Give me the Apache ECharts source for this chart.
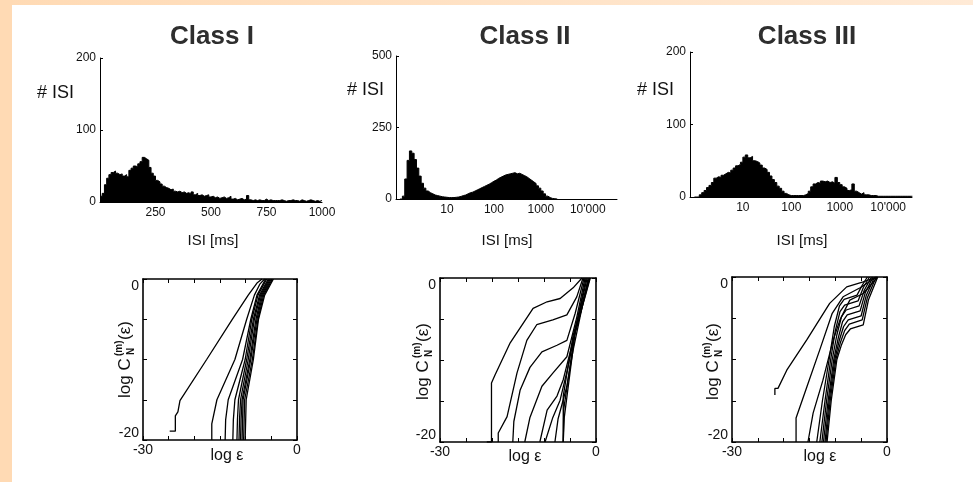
<!DOCTYPE html>
<html><head><meta charset="utf-8">
<script src="https://cdn.jsdelivr.net/npm/echarts@6/dist/echarts.min.js"></script>
<style>html,body{margin:0;padding:0;background:#fff}#c{width:973px;height:482px}</style>
</head><body><div id="c"></div>
<script>
// ---------- DATA ----------
const titles = ["Class I", "Class II", "Class III"];
// Class I histogram: linear bins of 10 ms, 0..1000 ms
const hist1BinWidth = 10;
const hist1Counts = [8,12,24,33,38,41,43,40,38,39,36,38,35,44,47,50,49,53,56,62,
  60,58,48,40,36,30,28,25,22,20,19,17,18,15,14,15,13,14,12,13,
  11,14,10,12,9,10,8,9,10,7,8,6,7,5,6,7,5,6,8,4,
  5,3,4,5,3,4,9,3,2,3,2,3,2,2,4,2,3,2,2,2,
  2,3,2,1,2,2,3,2,2,1,3,2,1,2,3,2,1,2,1,2];
// Class II & III histograms: log bins of 0.05 decade starting at 1 ms
const logBinWidth = 0.05;
const hist2Counts = [0,10,70,135,168,160,138,108,80,55,38,28,22,18,14,12,10,8,7,6,
  5,5,5,6,7,9,12,14,18,22,24,28,32,36,40,44,48,52,57,62,
  66,72,76,80,84,86,88,90,92,88,90,86,82,78,72,66,60,54,46,38,
  28,18,10,5,2,1,0];
const hist3Counts = [0,0,3,6,9,13,16,20,26,28,27,30,32,34,33,37,40,43,45,48,
  55,58,54,56,50,49,47,44,40,38,34,29,24,20,15,12,8,5,3,2,
  2,2,2,2,2,3,5,8,14,18,20,19,22,21,22,20,21,19,27,20,
  17,14,12,9,10,18,8,6,4,6,3,3,2,2,2,1,1,1,1,1,1,1,1,1,1,1,1,1,1,1];
const histYMax = [200, 500, 200];
const histYStep = [100, 250, 100];
const logTickLabels = {10: "10", 100: "100", 1000: "1000", 10000: "10'000"};

// Correlation integrals log C_N^(m)(eps) vs log eps, m = 1..10
const corrI = [
  [[-24.8,-18.9],[-23.7,-18.9],[-23.7,-17.0],[-23.2,-16.5],[-22.8,-15.1],[-17.6,-10],[-12.7,-5.1],[-9.5,-2],[-7.8,-0.5],[-6.8,0]],
  [[-16.6,-20],[-16.6,-18],[-15.6,-15],[-12.1,-10],[-9.8,-5],[-8.3,-2],[-7.2,-0.6],[-6.3,0]],
  [[-14.0,-20],[-13.9,-17.5],[-13.4,-15],[-10.6,-10],[-9.0,-5],[-7.8,-2],[-6.1,0]],
  [[-12.5,-20],[-12.4,-17.5],[-12.1,-15],[-10.1,-10],[-8.8,-5],[-7.6,-2],[-5.9,0]],
  [[-11.7,-20],[-11.6,-17.5],[-11.4,-15],[-9.8,-10],[-8.5,-5],[-7.3,-2],[-5.6,0]],
  [[-11.3,-20],[-11.2,-17.5],[-11.0,-15],[-9.5,-10],[-8.3,-5],[-7.1,-2],[-5.4,0]],
  [[-11.0,-20],[-10.9,-17.5],[-10.7,-15],[-9.2,-10],[-8.0,-5],[-6.9,-2],[-5.2,0]],
  [[-10.7,-20],[-10.6,-17.5],[-10.5,-15],[-9.0,-10],[-7.8,-5],[-6.7,-2],[-5.0,0]],
  [[-10.4,-20],[-10.3,-17.5],[-10.2,-15],[-8.7,-10],[-7.6,-5],[-6.5,-2],[-4.8,0]],
  [[-10.1,-20],[-10.0,-17.5],[-9.9,-15],[-8.5,-10],[-7.5,-5],[-6.3,-2],[-4.6,0]]
];
const corrII = [
  [[-21,-20],[-20.1,-20],[-20.1,-12.8],[-19.4,-11.8],[-16.5,-7.9],[-12.1,-3.7],[-9.4,-2.9],[-6.9,-2.5],[-4.4,-1.2],[-2.7,0]],
  [[-18.8,-20],[-18.8,-18.9],[-17.1,-16.9],[-15.2,-11.6],[-13.3,-7.6],[-11.4,-5.7],[-8.3,-5.1],[-5.6,-4.5],[-3.7,-2.3],[-2.5,0]],
  [[-16,-20],[-15.8,-17.5],[-14.6,-13.7],[-12.7,-10.9],[-10.4,-9],[-7.5,-8.2],[-5.6,-7.6],[-4,-4.3],[-2.3,0]],
  [[-13.7,-20],[-12.7,-17],[-10.4,-13.2],[-8.3,-11.6],[-5.6,-9.6],[-3.7,-4.8],[-2.1,0]],
  [[-10.8,-20],[-9.4,-16.1],[-7.5,-14.4],[-6.3,-12.4],[-4.4,-7.6],[-1.9,0]],
  [[-9.8,-20],[-8.3,-17],[-6.9,-14.9],[-5.4,-10.9],[-3.7,-5.5],[-1.7,0]],
  [[-7.9,-20],[-7.3,-17.2],[-5.6,-13.2],[-4.4,-8.8],[-1.5,0]],
  [[-6.3,-20],[-6.3,-14.4],[-4.4,-7],[-1.3,0]],
  [[-6.3,-20],[-6.2,-16],[-4.2,-7.2],[-1.2,0]],
  [[-6.3,-20],[-6.1,-17],[-4.0,-6.6],[-1.1,0]]
];
const corrIII = [
  [[-21.7,-14.3],[-21.7,-13.5],[-21.1,-13.5],[-19.4,-11.3],[-15.5,-7.6],[-11.1,-3.2],[-7.8,-1.2],[-4.6,-0.6],[-2,0]],
  [[-17.6,-20],[-17.6,-17.1],[-15.5,-13.3],[-13,-8.8],[-10.6,-4.4],[-8.5,-2.4],[-5.2,-1.3],[-2,0]],
  [[-15.3,-20],[-14.3,-16.5],[-12.4,-12.5],[-10.4,-7.6],[-9.1,-5.2],[-7.2,-2.8],[-4.6,-2],[-1.8,0]],
  [[-13.6,-20],[-12.5,-15],[-11.2,-10],[-10.2,-6],[-9.2,-3.5],[-8.3,-2.7],[-5.8,-2.2],[-4.8,-1],[-3.8,0]],
  [[-13.0,-20],[-12.0,-15],[-10.9,-10],[-10.0,-6.5],[-9.1,-4.2],[-8.2,-3.4],[-5.6,-2.9],[-4.6,-1.3],[-3.4,0]],
  [[-12.6,-20],[-11.7,-15],[-10.6,-10],[-9.7,-7],[-8.8,-4.8],[-7.9,-4.0],[-5.4,-3.5],[-4.4,-1.6],[-3.0,0]],
  [[-12.3,-20],[-11.4,-15],[-10.3,-10],[-9.4,-7.3],[-8.6,-5.4],[-7.7,-4.6],[-5.2,-4.1],[-4.2,-1.9],[-2.7,0]],
  [[-12.0,-20],[-11.2,-15],[-10.1,-10],[-9.2,-7.6],[-8.4,-6.0],[-7.5,-5.2],[-5.0,-4.7],[-4.0,-2.2],[-2.4,0]],
  [[-11.8,-20],[-11.0,-15],[-9.9,-10],[-9.0,-7.9],[-8.2,-6.5],[-7.3,-5.7],[-4.8,-5.2],[-3.8,-2.5],[-2.1,0]],
  [[-11.6,-20],[-10.8,-15],[-9.7,-10],[-8.8,-8.2],[-8.0,-7.0],[-7.1,-6.3],[-4.6,-5.8],[-3.6,-2.8],[-1.8,0]]
];
const corrSets = [corrI, corrII, corrIII];

// ---------- LAYOUT ----------
const FONT = "'Liberation Sans', Arial, sans-serif";
const grids = [
  {left:100, top:58, width:222, height:144},
  {left:396, top:56, width:221, height:143},
  {left:690, top:52, width:222, height:145},
  {left:143, top:279, width:154, height:161},
  {left:440, top:278, width:156, height:164},
  {left:732, top:277, width:155, height:165}
];
const titlePos = [[212,37],[525,37],[807,37]];
const isiYPos = [[37,93],[347,90],[637,90]];
const isiXPos = [[213,241],[507,241],[802,241]];
const logEpsPos = [[227,456],[525,457],[820,457]];
const ylabPos = [[125,358],[423,360],[713,360]];

function histPts(counts, start, w, isLog) {
  const pts = [];
  for (let i = 0; i < counts.length; i++) {
    const e = start + i * w;
    pts.push([isLog ? Math.pow(10, e) : e, counts[i]]);
  }
  const eEnd = start + counts.length * w;
  pts.push([isLog ? Math.pow(10, eEnd) : eEnd, counts[counts.length - 1]]);
  return pts;
}
const histData = [
  histPts(hist1Counts, 0, hist1BinWidth, false),
  histPts(hist2Counts, 0, logBinWidth, true),
  histPts(hist3Counts, 0, logBinWidth, true)
];

const lblStyle = {color:'#111', fontFamily:FONT, fontSize:12};
const xAxis = [], yAxis = [], series = [];

// histogram axes
xAxis.push({gridIndex:0, type:'value', min:0, max:1000, interval:250,
  axisLine:{lineStyle:{color:'#000', width:1}}, axisTick:{show:false}, splitLine:{show:false},
  axisLabel:Object.assign({}, lblStyle, {margin:5, formatter:v => v === 0 ? '' : String(v)})});
const logFmt = v => { const r = Math.round(v); return (Math.abs(v - r) < 1e-6 && logTickLabels[r]) ? logTickLabels[r] : ''; };
xAxis.push({gridIndex:1, type:'log', logBase:10, min:0.82, max:42000,
  axisLine:{lineStyle:{color:'#000', width:1}}, axisTick:{show:false}, splitLine:{show:false}, minorTick:{show:false},
  axisLabel:Object.assign({}, lblStyle, {margin:5, formatter:logFmt, showMinLabel:true, showMaxLabel:true})});
xAxis.push({gridIndex:2, type:'log', logBase:10, min:0.81, max:31000,
  axisLine:{lineStyle:{color:'#000', width:1}}, axisTick:{show:false}, splitLine:{show:false}, minorTick:{show:false},
  axisLabel:Object.assign({}, lblStyle, {margin:5, formatter:logFmt, showMinLabel:true, showMaxLabel:true})});
for (let k = 0; k < 3; k++) {
  yAxis.push({gridIndex:k, type:'value', min:0, max:histYMax[k], interval:histYStep[k],
    axisLine:{show:true, lineStyle:{color:'#000', width:1}},
    axisTick:{show:true, inside:true, length:3, lineStyle:{color:'#000'}},
    splitLine:{show:false}, axisLabel:Object.assign({}, lblStyle, {margin:4})});
  series.push({type:'line', xAxisIndex:k, yAxisIndex:k, step:'end', symbol:'none', silent:true,
    data:histData[k], lineStyle:{color:'#000', width:1}, areaStyle:{color:'#000', opacity:1}, animation:false});
}
// correlation integral axes (bottom/left with labels, top/right frame)
for (let k = 0; k < 3; k++) {
  const g = 3 + k;
  xAxis.push({gridIndex:g, type:'value', min:-30, max:0, interval:5, position:'bottom',
    axisLine:{onZero:false, lineStyle:{color:'#000', width:1.6}},
    axisTick:{inside:true, length:4, lineStyle:{color:'#000'}}, splitLine:{show:false},
    axisLabel:{color:'#111', fontFamily:FONT, fontSize:14, margin:3,
      formatter:v => (v === -30 || v === 0) ? String(v) : ''}});
  yAxis.push({gridIndex:g, type:'value', min:-20, max:0, interval:5, position:'left',
    axisLine:{onZero:false, lineStyle:{color:'#000', width:1.6}},
    axisTick:{inside:true, length:4, lineStyle:{color:'#000'}}, splitLine:{show:false},
    axisLabel:{color:'#111', fontFamily:FONT, fontSize:14, margin:4,
      verticalAlignMaxLabel:'top', verticalAlignMinLabel:'bottom',
      formatter:v => (v === -20 || v === 0) ? String(v) : ''}});
}
for (let k = 0; k < 3; k++) {
  const g = 3 + k;
  xAxis.push({gridIndex:g, type:'value', min:-30, max:0, interval:5, position:'top',
    axisLine:{onZero:false, lineStyle:{color:'#000', width:1.6}},
    axisTick:{inside:true, length:4, lineStyle:{color:'#000'}}, splitLine:{show:false}, axisLabel:{show:false}});
  yAxis.push({gridIndex:g, type:'value', min:-20, max:0, interval:5, position:'right',
    axisLine:{onZero:false, lineStyle:{color:'#000', width:1.6}},
    axisTick:{inside:true, length:4, lineStyle:{color:'#000'}}, splitLine:{show:false}, axisLabel:{show:false}});
}
for (let k = 0; k < 3; k++) {
  corrSets[k].forEach(c => series.push({type:'line', xAxisIndex:3 + k, yAxisIndex:3 + k, symbol:'none', silent:true,
    data:c, lineStyle:{color:'#000', width:1.3}, animation:false}));
}

// ---------- TEXT / DECOR ----------
const graphic = [
  {type:'rect', shape:{x:0, y:0, width:973, height:5}, style:{fill:new echarts.graphic.LinearGradient(0,0,1,0,[{offset:0,color:'#FFDAB4'},{offset:1,color:'#FFEAD6'}])}, silent:true},
  {type:'rect', shape:{x:0, y:0, width:12, height:482}, style:{fill:'#FFDAB4'}, silent:true}
];
for (let k = 0; k < 3; k++) {
  graphic.push({type:'text', x:titlePos[k][0], y:titlePos[k][1], style:{text:titles[k], font:"bold 26px " + FONT, fill:'#2e2e2e', align:'center', verticalAlign:'middle'}});
  graphic.push({type:'text', x:isiYPos[k][0], y:isiYPos[k][1], style:{text:'# ISI', font:"18px " + FONT, fill:'#111', align:'left', verticalAlign:'middle'}});
  graphic.push({type:'text', x:isiXPos[k][0], y:isiXPos[k][1], style:{text:'ISI [ms]', font:"15px " + FONT, fill:'#111', align:'center', verticalAlign:'middle'}});
  graphic.push({type:'text', x:logEpsPos[k][0], y:logEpsPos[k][1], style:{text:'log ε', font:"16px " + FONT, fill:'#111', align:'center', verticalAlign:'middle'}});
  graphic.push({type:'group', x:ylabPos[k][0], y:ylabPos[k][1], rotation:Math.PI / 2, children:[
    {type:'text', x:-40, y:0, style:{text:'log C', font:"17px " + FONT, fill:'#111', align:'left', verticalAlign:'middle'}},
    {type:'text', x:2, y:-6, style:{text:'(m)', font:"bold 10px " + FONT, fill:'#111', align:'left', verticalAlign:'middle'}},
    {type:'text', x:3, y:6, style:{text:'N', font:"bold 10px " + FONT, fill:'#111', align:'left', verticalAlign:'middle'}},
    {type:'text', x:18, y:0, style:{text:'(ε)', font:"17px " + FONT, fill:'#111', align:'left', verticalAlign:'middle'}}
  ]});
}

const chart = echarts.init(document.getElementById('c'), null, {renderer:'canvas'});
chart.setOption({backgroundColor:'#fff', animation:false, grid:grids, xAxis, yAxis, series, graphic});
</script></body></html>
